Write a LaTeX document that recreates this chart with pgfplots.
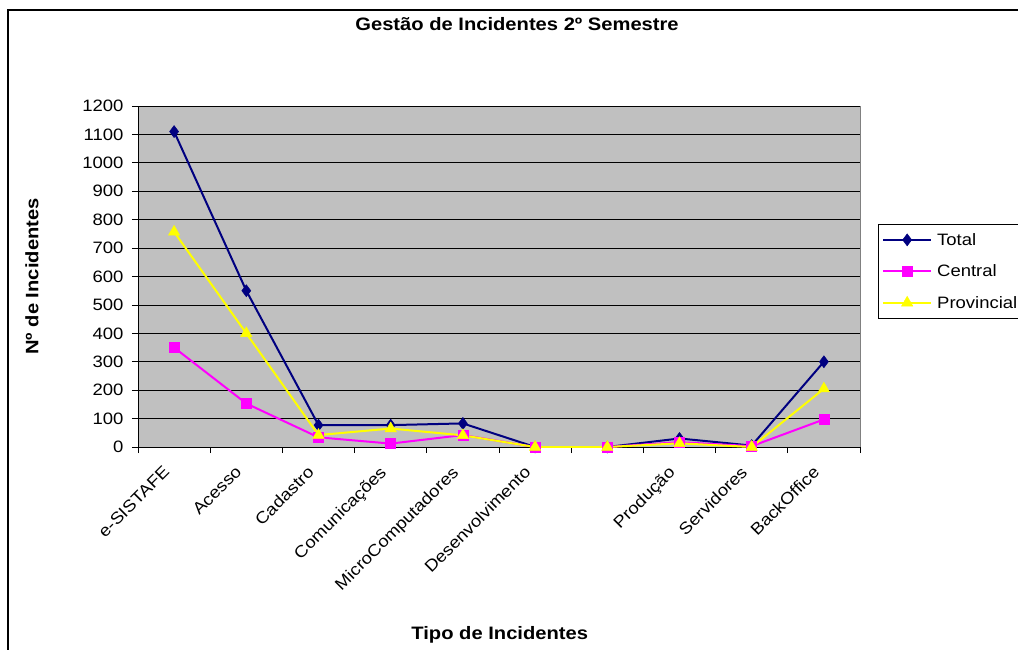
\documentclass[border=0pt]{standalone}
\usepackage{fontspec}
\setmainfont{Liberation Sans}[FakeStretch=1.12]
\usepackage{pgfplots}
\pgfplotsset{compat=1.18}
\definecolor{navyc}{HTML}{000080}
\definecolor{magc}{HTML}{FF00FF}
\definecolor{yelc}{HTML}{FFFF00}
\definecolor{plotbg}{HTML}{C0C0C0}
\definecolor{bordgray}{HTML}{808080}
\newcommand\fr{\fontsize{16.5}{19}\selectfont}
\newcommand\fb{\fontsize{18}{21}\selectfont\bfseries}
\begin{document}
\begin{tikzpicture}[x=1pt,y=1pt]
\useasboundingbox (0,0) rectangle (1018,649);
\fill[white] (0,0) rectangle (1018,649);
\draw[black, line width=1.5pt] (8,-5) -- (8,639) -- (1025,639);
\begin{axis}[
  at={(138pt,202pt)}, anchor=south west,
  scale only axis, width=722pt, height=341pt,
  xmin=-0.5, xmax=9.5, ymin=0, ymax=1200,
  axis background/.style={fill=plotbg, draw=bordgray, line width=1pt},
  axis x line*=bottom, axis y line*=left,
  axis line style={-, black, line width=1pt},
  xtick={0,...,9},
  xticklabels={e-SISTAFE,Acesso,Cadastro,Comunicações,MicroComputadores,Desenvolvimento,{},Produção,Servidores,BackOffice},
  minor xtick={-0.5,0.5,...,9.5},
  ytick={0,100,...,1200},
  ymajorgrids, grid style={black, line width=0.8pt},
  tick align=outside,
  major x tick style={draw=none},
  minor x tick style={black, line width=0.8pt},
  major y tick style={black, line width=0.8pt},
  major tick length=6pt, minor tick length=6pt,
  /pgf/number format/assume math mode=true,
  /pgf/number format/1000 sep={},
  tick label style={font=\fr},
  yticklabel style={xshift=-5pt},
  xticklabel style={xshift=-12pt, yshift=-9pt, rotate=45, anchor=north east, inner sep=2pt},
  title={Gestão de Incidentes 2º Semestre},
  title style={font=\fb, at={(axis description cs:0.525,1.2229)}, anchor=center},
  xlabel={Tipo de Incidentes},
  xlabel style={font=\fb, at={(axis description cs:0.501,-0.551)}, anchor=center},
  ylabel={Nº de Incidentes},
  ylabel style={font=\fb, at={(axis description cs:-0.147,0.5)}, anchor=center},
  legend style={draw=black, fill=white, at={(1.0249,0.654)}, anchor=north west,
    font=\fr, row sep=14pt, inner xsep=4pt, inner ysep=7pt, nodes={inner xsep=5pt}},
  legend cell align=left,
  legend image code/.code={\draw[#1] (0pt,0pt) -- (48pt,0pt); \draw[#1] plot coordinates {(24pt,0pt)};},
]
\addplot[navyc, line width=2pt, mark=diamond*, mark size=6pt, mark options={solid, fill=navyc, draw=navyc, line width=0.5pt}]
  coordinates {(0,1110)(1,550)(2,77)(3,77)(4,83)(5,0)(6,0)(7,30)(8,5)(9,300)};
\addlegendentry{Total}
\addplot[magc, line width=2pt, mark=square*, mark size=5pt, mark options={solid, fill=magc, draw=magc, line width=0.5pt}]
  coordinates {(0,350)(1,153)(2,34)(3,12)(4,42)(5,0)(6,0)(7,17)(8,3)(9,97)};
\addlegendentry{Central}
\addplot[yelc, line width=2pt, mark=triangle*, mark size=6.5pt, mark options={solid, fill=yelc, draw=yelc, line width=0.5pt}]
  coordinates {(0,757)(1,400)(2,42)(3,65)(4,41)(5,0)(6,0)(7,13)(8,0)(9,205)};
\addlegendentry{Provincial}
\end{axis}
\end{tikzpicture}
\end{document}
